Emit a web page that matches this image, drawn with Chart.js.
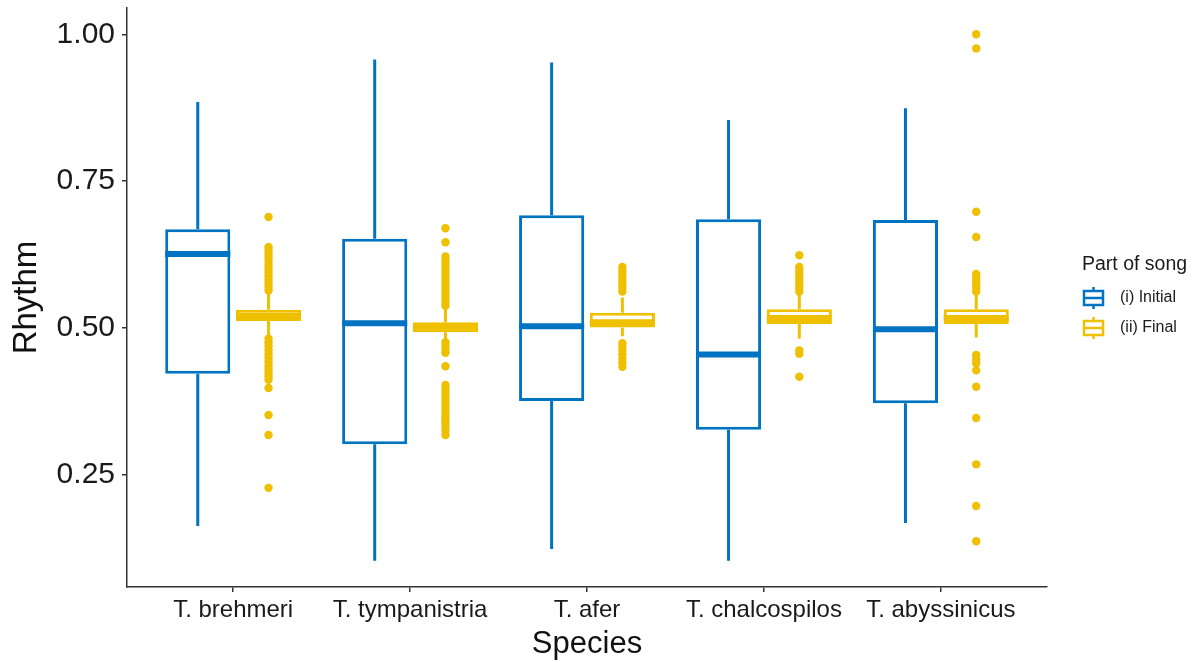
<!DOCTYPE html>
<html>
<head>
<meta charset="utf-8">
<script src="https://cdn.jsdelivr.net/npm/chart.js@4.4.1/dist/chart.umd.min.js"></script>
<style>
  html, body { margin: 0; padding: 0; background: #fff; }
  #wrap { width: 1200px; height: 663px; }
</style>
</head>
<body>
<div id="wrap"><canvas id="boxChart" width="1200" height="663"></canvas></div>
<script>
// Data
const categories = ['T. brehmeri', 'T. tympanistria', 'T. afer', 'T. chalcospilos', 'T. abyssinicus'];
const yTicks = [0.25, 0.50, 0.75, 1.00];

// (i) Initial
const initialLow  = [0.163, 0.104, 0.124, 0.104, 0.168];
const initialQ1   = [0.422, 0.302, 0.376, 0.327, 0.372];
const initialMed  = [0.626, 0.508, 0.503, 0.455, 0.498];
const initialQ3   = [0.668, 0.652, 0.692, 0.685, 0.684];
const initialHigh = [0.885, 0.957, 0.952, 0.854, 0.874];
const initialOut  = [[], [], [], [], []];

// (ii) Final
const finalLow  = [0.486, 0.480, 0.486, 0.482, 0.484];
const finalQ1   = [0.512, 0.493, 0.501, 0.507, 0.507];
const finalMed  = [0.521, 0.502, 0.510, 0.517, 0.517];
const finalQ3   = [0.531, 0.510, 0.526, 0.532, 0.532];
const finalHigh = [0.558, 0.532, 0.552, 0.558, 0.557];
const finalOut = [
    [0.689, 0.638, 0.632, 0.626, 0.620, 0.614, 0.607, 0.600, 0.594, 0.588, 0.582, 0.576, 0.570, 0.564,
     0.482, 0.476, 0.470, 0.463, 0.456, 0.450, 0.443, 0.436, 0.430, 0.424, 0.418, 0.412, 0.398, 0.352, 0.318, 0.228],
    [0.670, 0.646, 0.622, 0.616, 0.610, 0.604, 0.598, 0.592, 0.586, 0.580, 0.574, 0.568, 0.562, 0.556, 0.550, 0.544, 0.538,
     0.476, 0.470, 0.464, 0.458, 0.435, 0.403, 0.397, 0.391, 0.385, 0.379, 0.373, 0.367, 0.361, 0.355, 0.349, 0.343, 0.337, 0.331, 0.325, 0.318],
    [0.604, 0.598, 0.592, 0.586, 0.580, 0.574, 0.568, 0.562,
     0.474, 0.468, 0.462, 0.455, 0.448, 0.441, 0.434],
    [0.624, 0.604, 0.598, 0.592, 0.586, 0.580, 0.574, 0.568, 0.562,
     0.462, 0.456, 0.417],
    [1.000, 0.976, 0.698, 0.655, 0.592, 0.586, 0.580, 0.574, 0.568, 0.562,
     0.454, 0.447, 0.440, 0.428, 0.400, 0.347, 0.268, 0.197, 0.137]
];

const BLUE = '#0073C2';
const GOLD = '#EFC000';
const FONT = "'Liberation Sans', Arial, Helvetica, sans-serif";

const series = [
    { label: '(i) Initial', color: BLUE, low: initialLow, q1: initialQ1, med: initialMed, q3: initialQ3, high: initialHigh, out: initialOut },
    { label: '(ii) Final', color: GOLD, low: finalLow, q1: finalQ1, med: finalMed, q3: finalQ3, high: finalHigh, out: finalOut }
];

// whiskers, medians and outlier dots, placed on the bar elements
const boxExtras = {
    id: 'boxExtras',
    beforeDatasetsDraw(chart) {
        const ctx = chart.ctx;
        const y = chart.scales.y;
        series.forEach((s, d) => {
            const meta = chart.getDatasetMeta(d);
            ctx.save();
            ctx.strokeStyle = s.color;
            ctx.lineWidth = 3;
            meta.data.forEach((bar, i) => {
                ctx.beginPath();
                ctx.moveTo(bar.x, y.getPixelForValue(s.high[i]));
                ctx.lineTo(bar.x, y.getPixelForValue(s.q3[i]));
                ctx.moveTo(bar.x, y.getPixelForValue(s.q1[i]));
                ctx.lineTo(bar.x, y.getPixelForValue(s.low[i]));
                ctx.stroke();
            });
            ctx.restore();
        });
    },
    afterDatasetsDraw(chart) {
        const ctx = chart.ctx;
        const y = chart.scales.y;
        series.forEach((s, d) => {
            const meta = chart.getDatasetMeta(d);
            ctx.save();
            ctx.strokeStyle = s.color;
            ctx.fillStyle = s.color;
            meta.data.forEach((bar, i) => {
                const ym = y.getPixelForValue(s.med[i]);
                ctx.lineWidth = 6;
                ctx.beginPath();
                ctx.moveTo(bar.x - bar.width / 2, ym);
                ctx.lineTo(bar.x + bar.width / 2, ym);
                ctx.stroke();
                s.out[i].forEach(v => {
                    ctx.beginPath();
                    ctx.arc(bar.x, y.getPixelForValue(v), 4.2, 0, Math.PI * 2);
                    ctx.fill();
                });
            });
            ctx.restore();
        });
    }
};

// legend on the right, ggplot style
const sideLegend = {
    id: 'sideLegend',
    afterDraw(chart) {
        const ctx = chart.ctx;
        const left = chart.chartArea.right + 35;
        ctx.save();
        ctx.fillStyle = '#1a1a1a';
        ctx.textBaseline = 'middle';
        ctx.font = '19.5px ' + FONT;
        ctx.fillText('Part of song', left, 265);
        series.forEach((s, k) => {
            const cy = 298 + k * 30;
            const gx = left + 2;
            ctx.strokeStyle = s.color;
            ctx.lineWidth = 2.5;
            ctx.strokeRect(gx, cy - 7, 19, 14);
            ctx.beginPath();
            ctx.moveTo(gx, cy);
            ctx.lineTo(gx + 19, cy);
            ctx.moveTo(gx + 9.5, cy - 11);
            ctx.lineTo(gx + 9.5, cy - 7);
            ctx.moveTo(gx + 9.5, cy + 7);
            ctx.lineTo(gx + 9.5, cy + 11);
            ctx.stroke();
            ctx.fillStyle = '#1a1a1a';
            ctx.font = '16px ' + FONT;
            ctx.fillText(s.label, left + 38, cy);
        });
        ctx.restore();
    }
};

function noEdgePadding(scale) {
    scale.paddingTop = 0;
    scale.paddingBottom = 0;
    scale.paddingLeft = 0;
    scale.paddingRight = 0;
}

const ctx = document.getElementById('boxChart');
new Chart(ctx, {
    type: 'bar',
    data: {
        datasets: series.map(s => ({
            label: s.label,
            data: categories.map((c, i) => ({ x: i, y: [s.q1[i], s.q3[i]] })),
            backgroundColor: '#ffffff',
            borderColor: s.color,
            borderWidth: 3,
            borderSkipped: false,
            barPercentage: 0.92,
            categoryPercentage: 0.8
        }))
    },
    options: {
        responsive: false,
        animation: false,
        layout: { padding: { top: 8, right: 153, left: 0, bottom: 0 } },
        plugins: {
            legend: { display: false },
            tooltip: { enabled: false }
        },
        scales: {
            x: {
                type: 'linear',
                min: -0.6,
                max: 4.6,
                offset: false,
                afterBuildTicks: scale => { scale.ticks = categories.map((c, i) => ({ value: i })); },
                afterFit: scale => { scale.height = 76; noEdgePadding(scale); },
                ticks: {
                    callback: v => categories[v],
                    color: '#1a1a1a',
                    font: { family: FONT, size: 24 },
                    padding: 4,
                    maxRotation: 0,
                    autoSkip: false
                },
                grid: { offset: false, drawOnChartArea: false, drawTicks: true, tickLength: 5, color: '#333', lineWidth: 1.5 },
                border: { display: true, color: '#333', width: 1.5 },
                title: {
                    display: true,
                    text: 'Species',
                    color: '#111',
                    font: { family: FONT, size: 31 },
                    padding: { top: 0, bottom: 0 }
                }
            },
            y: {
                min: 0.0592,
                max: 1.0448,
                afterBuildTicks: scale => { scale.ticks = yTicks.map(v => ({ value: v })); },
                afterFit: scale => { scale.width = 127; noEdgePadding(scale); },
                ticks: {
                    callback: v => v.toFixed(2),
                    color: '#1a1a1a',
                    font: { family: FONT, size: 30 },
                    padding: 7
                },
                grid: { drawOnChartArea: false, drawTicks: true, tickLength: 5, color: '#333', lineWidth: 1.5 },
                border: { display: true, color: '#333', width: 1.5 },
                title: {
                    display: true,
                    text: 'Rhythm',
                    color: '#111',
                    font: { family: FONT, size: 33 },
                    padding: { top: 7, bottom: 0 }
                }
            }
        }
    },
    plugins: [boxExtras, sideLegend]
});
</script>
</body>
</html>
